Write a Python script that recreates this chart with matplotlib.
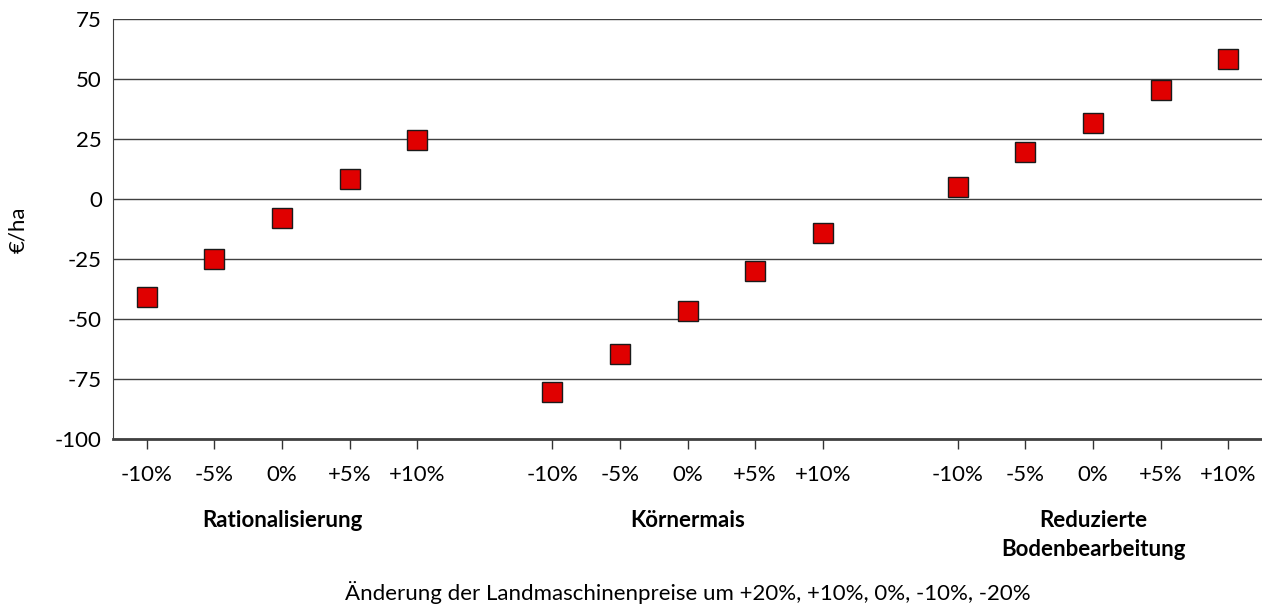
import matplotlib.pyplot as plt
from matplotlib.transforms import blended_transform_factory

plt.rcParams['font.family'] = ['Lato', 'DejaVu Sans']
plt.rcParams['axes.unicode_minus'] = False

# Daten
groups = ['Rationalisierung', 'Körnermais', 'Reduzierte\nBodenbearbeitung']
steps = ['-10%', '-5%', '0%', '+5%', '+10%']
rationalisierung = [-41, -25, -8, 8.5, 24.5]
koernermais = [-80.5, -64.5, -46.5, -30, -14]
reduziert = [5, 19.5, 31.5, 45.5, 58.5]
series = [rationalisierung, koernermais, reduziert]

W, H = 1262, 606
fig = plt.figure(figsize=(W / 100, H / 100), dpi=100)
ax = fig.add_axes([113 / W, 1 - 439 / H, 1 - 113 / W, (439 - 19) / H])

# je Gruppe 5 Kategorien + eine leere Lücke
xs, ys, labels = [], [], []
for g, vals in enumerate(series):
    for i, v in enumerate(vals):
        xs.append(g * 6 + i + 0.5)
        ys.append(v)
        labels.append(steps[i])

ax.plot(xs, ys, linestyle='none', marker='s', markersize=14.5,
        markerfacecolor='#e00000', markeredgecolor='#1a1a1a',
        markeredgewidth=1.0, zorder=3)

ax.set_xlim(0, 17)
ax.set_ylim(-100, 75)
ax.set_yticks(range(-100, 76, 25))
ax.yaxis.grid(True, color='#404040', linewidth=1.0)
ax.set_axisbelow(True)
ax.tick_params(axis='y', length=0, labelsize=16, pad=8)

ax.set_xticks(xs)
ax.set_xticklabels(labels)
ax.tick_params(axis='x', direction='out', length=7.5, width=1.0,
               color='#333333', labelsize=16, pad=11)

for s in ['top', 'right']:
    ax.spines[s].set_visible(False)
ax.spines['left'].set_color('#404040')
ax.spines['bottom'].set_color('#404040')
ax.spines['bottom'].set_linewidth(2)

fig.text(18 / W, 1 - 230 / H, '€/ha', rotation=90, ha='center', va='center',
         fontsize=16)

# Gruppenbeschriftungen
trans = blended_transform_factory(ax.transData, fig.transFigure)
for g, name in enumerate(groups):
    ax.text(g * 6 + 2.5, 1 - 510 / H, name, ha='center', va='top',
            fontsize=16, fontweight='bold', linespacing=1.5,
            transform=trans, clip_on=False)

fig.text((113 + W) / 2 / W, 1 - 593 / H,
         'Änderung der Landmaschinenpreise um +20%, +10%, 0%, -10%, -20%',
         ha='center', va='center', fontsize=16)

fig.savefig('out.png', dpi=100)
